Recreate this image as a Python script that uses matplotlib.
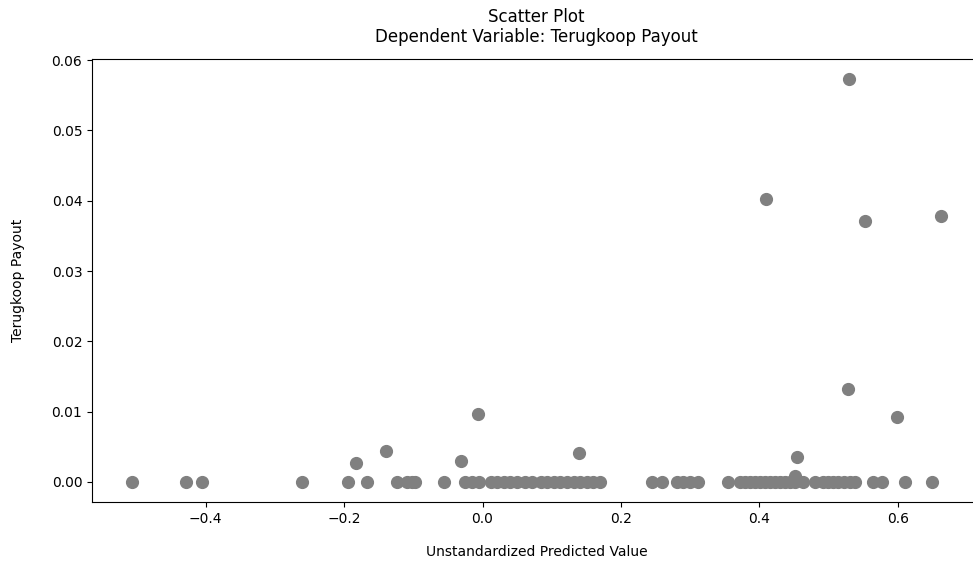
import numpy as np
import matplotlib
matplotlib.use("Agg")
import matplotlib.pyplot as plt

# predicted values whose payout is zero
zero_pred = [
    -0.506, -0.428, -0.405, -0.261, -0.195, -0.167, -0.124, -0.109, -0.102, -0.097,
    -0.055, -0.025, -0.015, -0.005, 0.012, 0.021, 0.031, 0.040, 0.050, 0.062,
    0.072, 0.084, 0.093, 0.103, 0.112, 0.122, 0.132, 0.141, 0.151, 0.160,
    0.170, 0.245, 0.259, 0.281, 0.290, 0.300, 0.312, 0.355, 0.372, 0.379,
    0.386, 0.394, 0.401, 0.408, 0.415, 0.422, 0.430, 0.437, 0.444, 0.451,
    0.463, 0.480, 0.492, 0.499, 0.507, 0.514, 0.523, 0.531, 0.538, 0.564,
    0.577, 0.611, 0.649,
]

# predicted values with a non-zero payout
nonzero_pred = [-0.183, -0.140, -0.031, -0.0068, 0.140, 0.410, 0.454, 0.452,
                0.528, 0.530, 0.553, 0.599, 0.662]
nonzero_payout = [0.00275, 0.00446, 0.00303, 0.00959, 0.00409, 0.0403, 0.00352,
                  0.00085, 0.0132, 0.0573, 0.0371, 0.00926, 0.0378]

x = np.array(zero_pred + nonzero_pred)
y = np.array([0.0] * len(zero_pred) + nonzero_payout)

fig = plt.figure(figsize=(9.73, 5.65), dpi=100)
# the original image is cropped on the right, so the axes run past the edge
ax = fig.add_axes([92 / 973, 63 / 565, 889 / 973, 443 / 565])
ax.scatter(x, y, s=72, color="gray", zorder=3)

ax.set_yticks([0.0, 0.01, 0.02, 0.03, 0.04, 0.05, 0.06])
ax.set_xticks([-0.4, -0.2, 0.0, 0.2, 0.4, 0.6])
ax.tick_params(labelsize=10)
ax.set_xlabel("Unstandardized Predicted Value", fontsize=10, labelpad=14)
ax.set_ylabel("Terugkoop Payout", fontsize=10, labelpad=19)
ax.set_title("Scatter Plot\nDependent Variable: Terugkoop Payout", fontsize=12, pad=12)

fig.savefig("out.png", dpi=100)
